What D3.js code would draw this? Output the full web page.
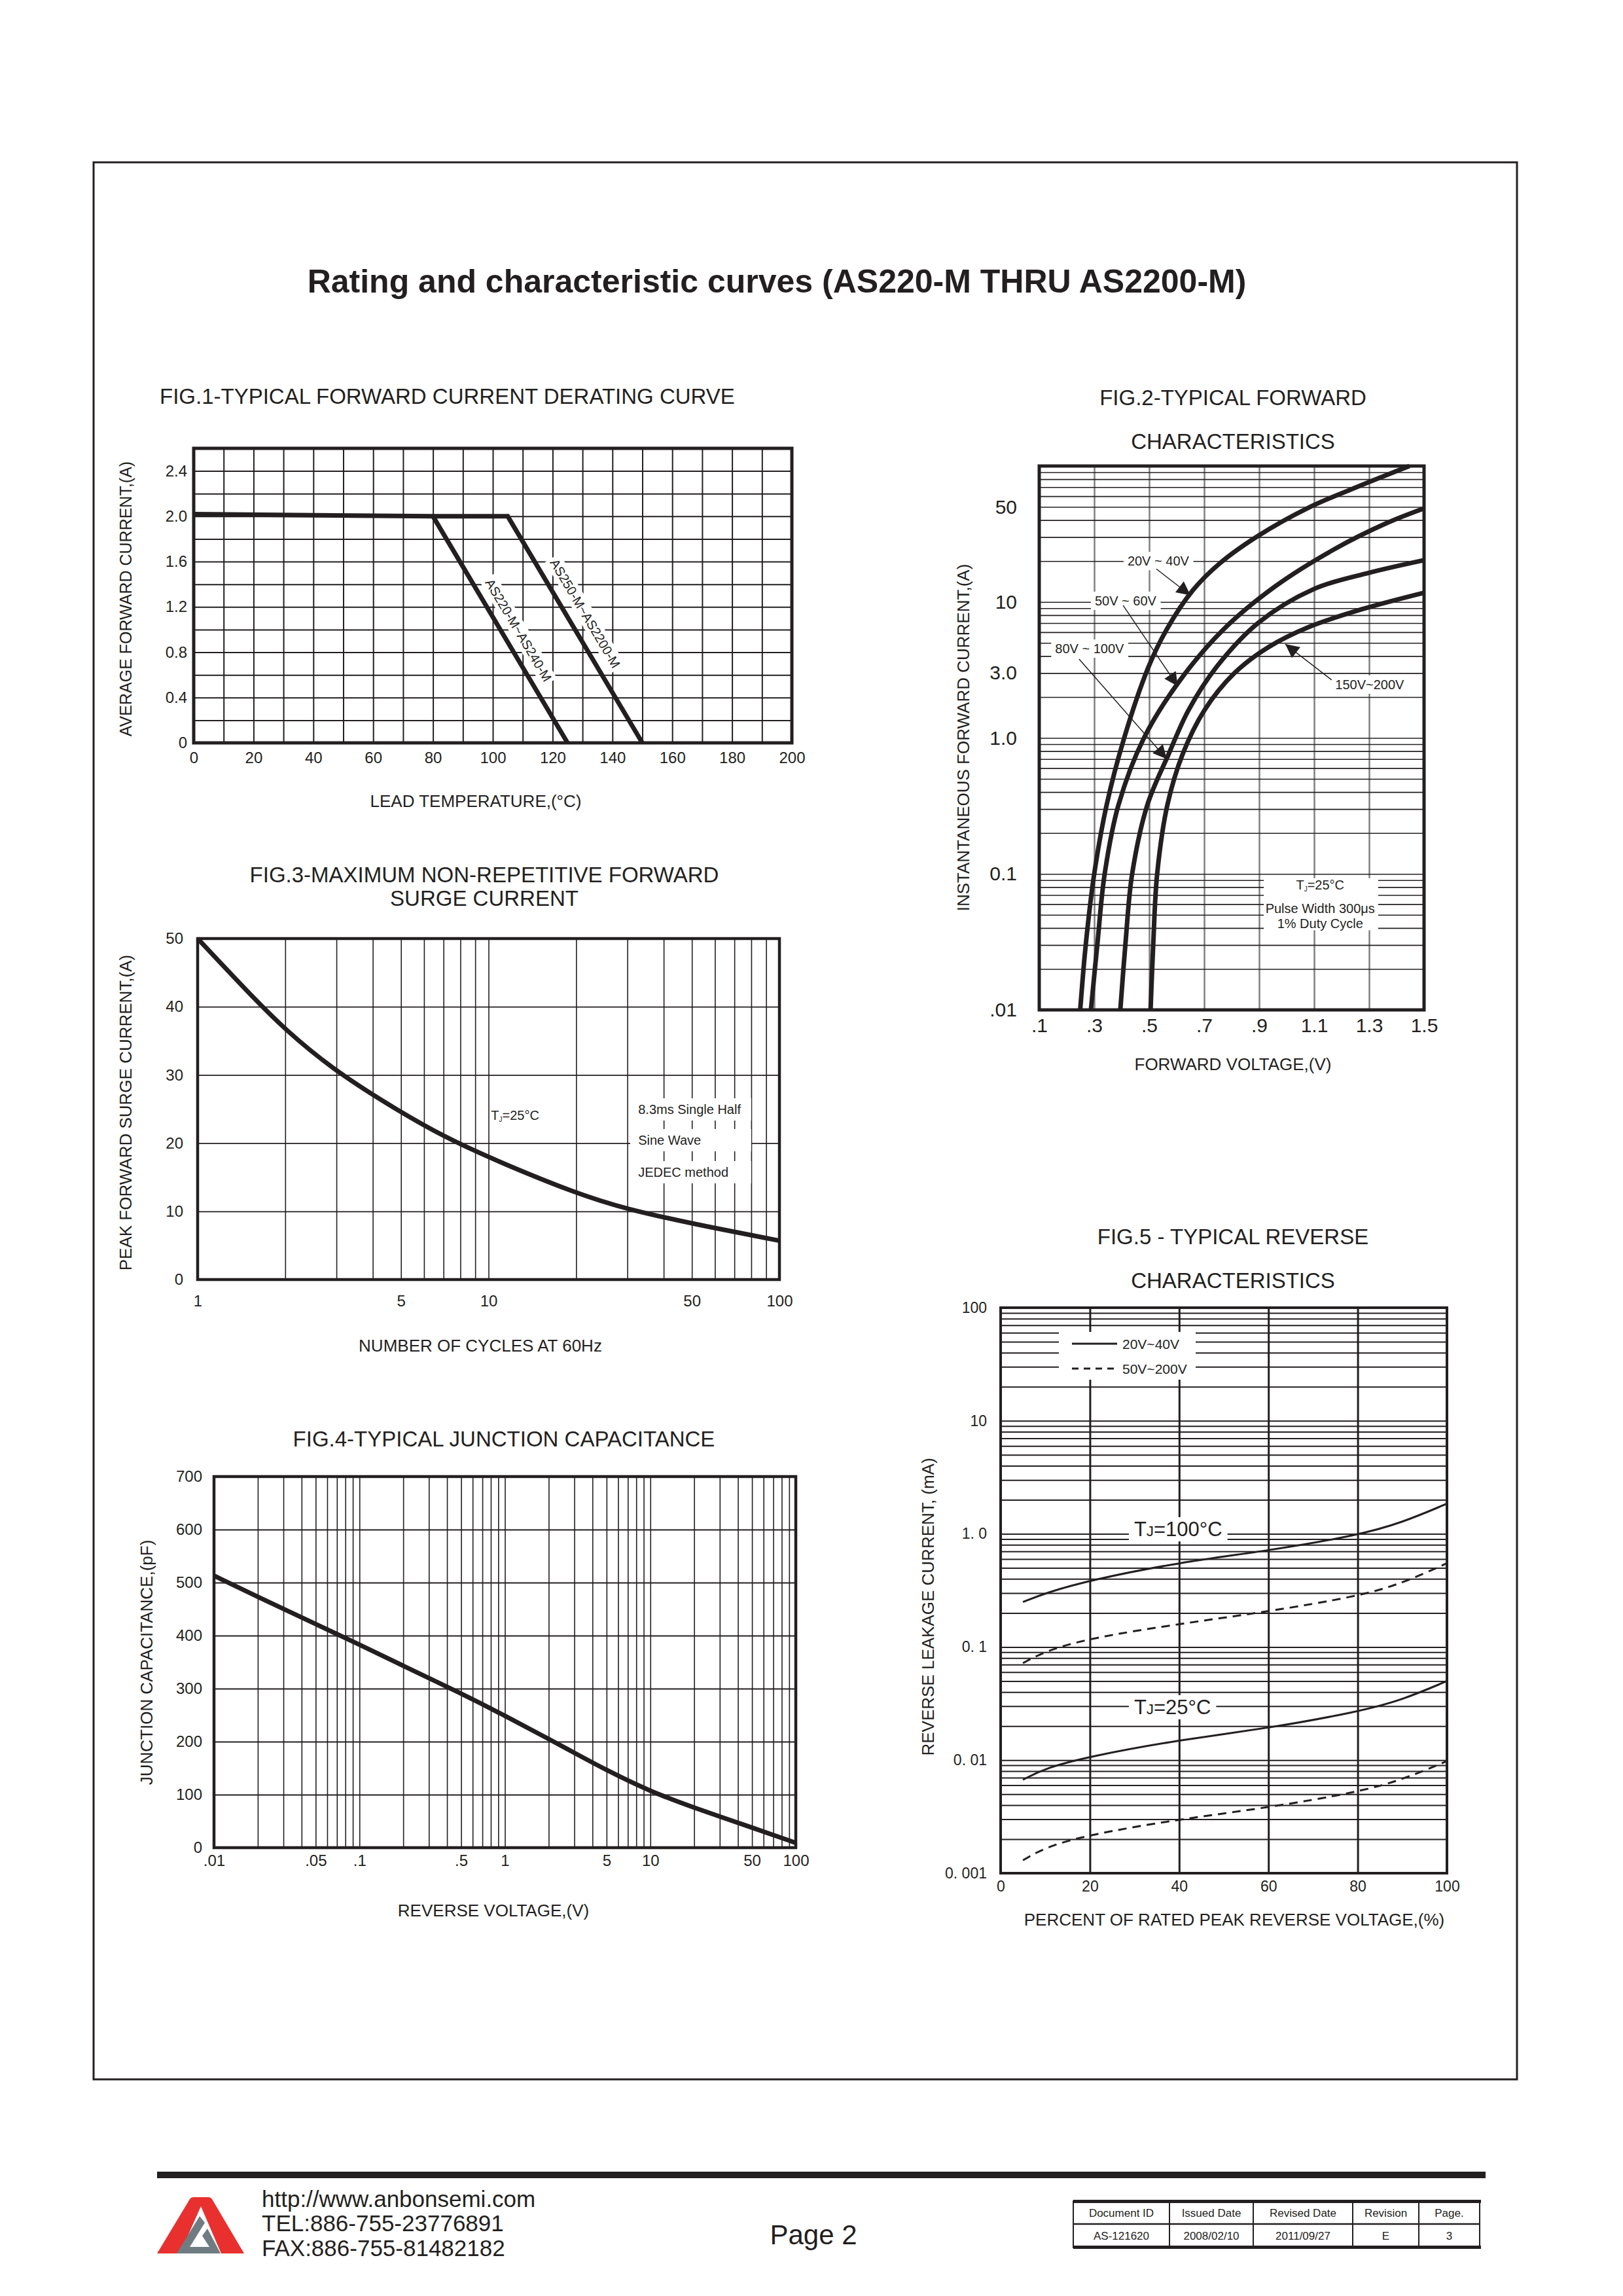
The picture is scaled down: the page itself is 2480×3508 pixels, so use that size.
<!DOCTYPE html>
<html>
<head>
<meta charset="utf-8">
<script src="https://cdn.jsdelivr.net/npm/d3@7"></script>
<style>
body { margin: 0; background: #fff; }
text { font-family: "Liberation Sans", Arial, sans-serif; fill: #231f20; }
</style>
</head>
<body>
<svg id="page" width="2480" height="3508"></svg>
<script>
// ---- fig.1 derating ----
const fig1Temp = [0, 20, 40, 60, 80, 100, 120, 140, 160, 180, 200];
const fig1AmpTicks = [0, 0.4, 0.8, 1.2, 1.6, 2.0, 2.4];
const fig1AmpLabels = ['0', '0.4', '0.8', '1.2', '1.6', '2.0', '2.4'];
const lowTemp = [0, 80, 125];
const lowAmp = [2.02, 2.0, 0];
const highTemp = [80, 105, 150];
const highAmp = [2.0, 2.0, 0];

// ---- fig.2 forward characteristics ----
const fig2VoltTicks = [0.1, 0.3, 0.5, 0.7, 0.9, 1.1, 1.3, 1.5];
const fig2VoltLabels = ['.1', '.3', '.5', '.7', '.9', '1.1', '1.3', '1.5'];
const fig2CurTicks = [50, 10, 3, 1, 0.1, 0.01];
const fig2CurLabels = ['50', '10', '3.0', '1.0', '0.1', '.01'];
const vA = [0.249, 0.270, 0.300, 0.345, 0.409, 0.494, 0.563, 0.659, 0.755, 0.898, 1.079, 1.255, 1.447];
const iA = [0.01, 0.0313, 0.1, 0.32, 1.0, 3.2, 6.25, 12.2, 19.1, 30.8, 49.3, 70, 100];
const vB = [0.288, 0.312, 0.338, 0.388, 0.481, 0.610, 0.769, 0.960, 1.173, 1.365, 1.5];
const iB = [0.01, 0.0313, 0.1, 0.32, 1.0, 2.62, 6.25, 13.1, 24.4, 38.1, 48.8];
const vC = [0.395, 0.414, 0.438, 0.493, 0.571, 0.643, 0.747, 0.898, 1.101, 1.300, 1.5];
const iC = [0.01, 0.0313, 0.1, 0.32, 0.762, 1.60, 3.37, 7.06, 12.5, 16.4, 20.3];
const vD = [0.505, 0.515, 0.529, 0.566, 0.622, 0.701, 0.808, 0.933, 1.082, 1.273, 1.5];
const iD = [0.01, 0.0313, 0.1, 0.32, 0.762, 1.60, 2.97, 4.64, 6.56, 8.83, 11.7];

// ---- fig.3 surge ----
const fig3CycTicks = [1, 5, 10, 50, 100];
const fig3AmpTicks = [0, 10, 20, 30, 40, 50];
const cycles = [1, 1.5, 2, 3, 5, 7, 10, 20, 30, 50, 100];
const surge = [50, 42.0, 36.6, 30.4, 24.5, 21.0, 17.9, 12.6, 10.3, 8.2, 5.7];

// ---- fig.4 capacitance ----
const fig4VoltTicks = [0.01, 0.05, 0.1, 0.5, 1, 5, 10, 50, 100];
const fig4VoltLabels = ['.01', '.05', '.1', '.5', '1', '5', '10', '50', '100'];
const fig4CapTicks = [0, 100, 200, 300, 400, 500, 600, 700];
const revVolt = [0.01, 0.02, 0.05, 0.1, 0.2, 0.5, 1, 2, 3, 5, 10, 20, 50, 100];
const capPf = [513, 473, 422, 383, 343, 291, 249, 205, 179, 146, 106, 75, 38, 9];

// ---- fig.5 reverse ----
const fig5PctTicks = [0, 20, 40, 60, 80, 100];
const fig5CurTicks = [100, 10, 1, 0.1, 0.01, 0.001];
const fig5CurLabels = ['100', '10', '1. 0', '0. 1', '0. 01', '0. 001'];
const pct = [5, 10, 20, 40, 60, 80, 90, 100];
const hot2040 = [0.25, 0.30, 0.39, 0.56, 0.71, 0.97, 1.26, 1.85];
const hot50200 = [0.072, 0.092, 0.12, 0.16, 0.206, 0.28, 0.365, 0.55];
const cold2040 = [0.0067, 0.0085, 0.0108, 0.0151, 0.0191, 0.0267, 0.034, 0.05];
const cold50200 = [0.0013, 0.0017, 0.0022, 0.003, 0.0038, 0.0052, 0.0067, 0.0098];

const ink = '#231f20';
const svg = d3.select('#page');

svg.append('defs').append('marker')
  .attr('id', 'head').attr('viewBox', '0 0 10 10').attr('refX', 10).attr('refY', 5)
  .attr('markerWidth', 28).attr('markerHeight', 21).attr('markerUnits', 'userSpaceOnUse')
  .attr('orient', 'auto')
  .append('path').attr('d', 'M0,0L10,5L0,10Z').attr('fill', ink);

function logGrid(lo, hi) {
  const out = [];
  for (let e = Math.log10(lo); e < Math.log10(hi); e++) {
    for (let k = 1; k < 10; k++) {
      const v = k * Math.pow(10, e);
      if (v > lo * 1.0001) out.push(v);
    }
  }
  return out;
}

function cleanAxis(s, size) {
  s.attr('font-family', null).attr('font-size', null);
  s.select('.domain').remove();
  s.selectAll('.tick line').remove();
  s.selectAll('text').attr('font-size', size).attr('fill', ink);
}

function panel(o) {
  const w = o.box[2] - o.box[0], h = o.box[3] - o.box[1];
  const g = svg.append('g').attr('transform', `translate(${o.box[0]},${o.box[1]})`);
  const x = (o.xLog ? d3.scaleLog() : d3.scaleLinear()).domain(o.xDomain).range([0, w]);
  const y = (o.yLog ? d3.scaleLog() : d3.scaleLinear()).domain(o.yDomain).range([h, 0]);

  g.append('g')
    .call(d3.axisBottom(x).tickValues(o.xGrid).tickSize(h).tickFormat(''))
    .call(s => s.select('.domain').remove())
    .selectAll('line').attr('stroke', o.vColor || ink).attr('stroke-width', o.vWidth);
  g.append('g')
    .call(d3.axisLeft(y).tickValues(o.yGrid).tickSize(-w).tickFormat(''))
    .call(s => s.select('.domain').remove())
    .selectAll('line').attr('stroke', ink).attr('stroke-width', o.hWidth);

  g.append('g').attr('transform', `translate(0,${h})`)
    .call(d3.axisBottom(x).tickValues(o.xTicks).tickFormat((d, i) => o.xLabels[i]).tickSize(0).tickPadding(o.xPad))
    .call(s => cleanAxis(s, o.tickFont));
  g.append('g')
    .call(d3.axisLeft(y).tickValues(o.yTicks).tickFormat((d, i) => o.yLabels[i]).tickSize(0).tickPadding(o.yPad))
    .call(s => cleanAxis(s, o.tickFont));

  const frame = () => g.append('rect').attr('width', w).attr('height', h)
    .attr('fill', 'none').attr('stroke', ink).attr('stroke-width', o.frame);
  return { g, x, y, w, h, frame };
}

function text(x, y, str, size, anchor, weight) {
  return svg.append('text').attr('x', x).attr('y', y).attr('font-size', size)
    .attr('text-anchor', anchor || 'start').attr('font-weight', weight || 'normal').text(str);
}
function vtext(cx, cy, str, size) {
  svg.append('text').attr('transform', `translate(${cx},${cy}) rotate(-90)`)
    .attr('font-size', size).attr('text-anchor', 'middle').text(str);
}
// white patch behind a text node
function backing(parent, node, padX, padY) {
  const b = node.node().getBBox();
  parent.insert('rect', () => node.node())
    .attr('x', b.x - padX).attr('y', b.y - padY)
    .attr('width', b.width + 2 * padX).attr('height', b.height + 2 * padY)
    .attr('fill', '#fff');
}
function tjLabel(parent, x, y, size, rest, tiny) {
  const t = parent.append('text').attr('x', x).attr('y', y).attr('font-size', size);
  t.append('tspan').text('T');
  t.append('tspan').attr('font-size', size * (tiny ? 0.5 : 0.72)).attr('dy', tiny ? 3 : 0).text('J');
  t.append('tspan').attr('dy', tiny ? -3 : 0).text(rest);
  return t;
}
function curveIn(p, xs, ys, kind) {
  return d3.line().x(d => p.x(d[0])).y(d => p.y(d[1]))
    .curve(kind || d3.curveCatmullRom.alpha(0.5))(d3.zip(xs, ys));
}

// page frame and heading
svg.append('rect').attr('x', 143).attr('y', 248).attr('width', 2175).attr('height', 2929)
  .attr('fill', 'none').attr('stroke', ink).attr('stroke-width', 3);
text(1187, 447, 'Rating and characteristic curves (AS220-M THRU AS2200-M)', 50, 'middle', 'bold');

// ---------------- FIG 1 ----------------
const p1 = panel({
  box: [296, 685, 1210, 1135], xDomain: [0, 200], yDomain: [0, 2.6],
  xGrid: d3.range(10, 200, 10), yGrid: d3.range(0.2, 2.59, 0.2),
  vWidth: 2, hWidth: 2,
  xTicks: fig1Temp, xLabels: fig1Temp.map(String), yTicks: fig1AmpTicks, yLabels: fig1AmpLabels,
  xPad: 14, yPad: 10, tickFont: 24, frame: 5
});
const line1 = d3.line().x(d => p1.x(d[0])).y(d => p1.y(d[1]));
p1.g.append('path').attr('d', line1(d3.zip(lowTemp, lowAmp)))
  .attr('fill', 'none').attr('stroke', ink).attr('stroke-width', 7).attr('stroke-linejoin', 'miter');
p1.g.append('path').attr('d', line1(d3.zip(highTemp, highAmp)))
  .attr('fill', 'none').attr('stroke', ink).attr('stroke-width', 7).attr('stroke-linejoin', 'miter');
const ang1 = Math.atan2(p1.y(0) - p1.y(2), p1.x(125) - p1.x(80)) * 180 / Math.PI;
[['AS220-M~AS240-M', 108.6, 0.995], ['AS250-M~AS2200-M', 130.9, 1.143]].forEach(([s, t, a]) => {
  const lg = p1.g.append('g').attr('transform', `translate(${p1.x(t)},${p1.y(a)}) rotate(${ang1})`);
  const tn = lg.append('text').attr('font-size', 20).attr('text-anchor', 'middle').attr('dy', '0.35em').text(s);
  backing(lg, tn, 4, 2);
});
p1.frame();
text(244, 617, 'FIG.1-TYPICAL FORWARD CURRENT DERATING CURVE', 33);
vtext(201, 915, 'AVERAGE FORWARD CURRENT,(A)', 25);
text(727, 1233, 'LEAD TEMPERATURE,(°C)', 26, 'middle');

// ---------------- FIG 2 ----------------
const p2 = panel({
  box: [1588, 712, 2176, 1543], xDomain: [0.1, 1.5], yDomain: [0.01, 100], yLog: true,
  xGrid: [0.3, 0.5, 0.7, 0.9, 1.1, 1.3], yGrid: logGrid(0.01, 100),
  vColor: '#808080', vWidth: 2.5, hWidth: 1.6,
  xTicks: fig2VoltTicks, xLabels: fig2VoltLabels, yTicks: fig2CurTicks, yLabels: fig2CurLabels,
  xPad: 13, yPad: 34, tickFont: 30, frame: 5
});
[[vA, iA], [vB, iB], [vC, iC], [vD, iD]].forEach(([v, i]) => {
  p2.g.append('path').attr('d', curveIn(p2, v, i))
    .attr('fill', 'none').attr('stroke', ink).attr('stroke-width', 7);
});
const fig2Notes = [
  { s: '20V ~ 40V', at: [0.533, 20], tail: [0.526, 17.5], tip: [0.650, 11.2] },
  { s: '50V ~ 60V', at: [0.414, 10.2], tail: [0.405, 9.45], tip: [0.604, 2.4] },
  { s: '80V ~ 100V', at: [0.283, 4.54], tail: [0.245, 3.8], tip: [0.564, 0.70] },
  { s: '150V~200V', at: [1.302, 2.47], tail: [1.164, 2.67], tip: [0.995, 4.9] }
];
fig2Notes.forEach(n => {
  const t = p2.g.append('text').attr('x', p2.x(n.at[0])).attr('y', p2.y(n.at[1]))
    .attr('dy', '0.35em').attr('font-size', 20).attr('text-anchor', 'middle').text(n.s);
  backing(p2.g, t, 6, 3);
  p2.g.append('line').attr('x1', p2.x(n.tail[0])).attr('y1', p2.y(n.tail[1]))
    .attr('x2', p2.x(n.tip[0])).attr('y2', p2.y(n.tip[1]))
    .attr('stroke', ink).attr('stroke-width', 1.5).attr('marker-end', 'url(#head)');
});
p2.g.append('rect').attr('x', p2.x(0.917)).attr('y', p2.y(0.093))
  .attr('width', p2.x(1.333) - p2.x(0.917)).attr('height', p2.y(0.0385) - p2.y(0.093)).attr('fill', '#fff');
tjLabel(p2.g, p2.x(1.122), p2.y(0.083), 20, '=25°C', true).attr('text-anchor', 'middle').attr('dy', '0.35em');
p2.g.append('text').attr('x', p2.x(1.122)).attr('y', p2.y(0.0557)).attr('dy', '0.35em')
  .attr('font-size', 20).attr('text-anchor', 'middle').text('Pulse Width 300μs');
p2.g.append('text').attr('x', p2.x(1.122)).attr('y', p2.y(0.0432)).attr('dy', '0.35em')
  .attr('font-size', 20).attr('text-anchor', 'middle').text('1% Duty Cycle');
p2.frame();
text(1884, 619, 'FIG.2-TYPICAL FORWARD', 33, 'middle');
text(1884, 686, 'CHARACTERISTICS', 33, 'middle');
vtext(1481, 1127, 'INSTANTANEOUS FORWARD CURRENT,(A)', 26);
text(1884, 1635, 'FORWARD VOLTAGE,(V)', 26, 'middle');

// ---------------- FIG 3 ----------------
const p3 = panel({
  box: [302, 1434, 1191, 1955], xDomain: [1, 100], xLog: true, yDomain: [0, 50],
  xGrid: logGrid(1, 100), yGrid: [10, 20, 30, 40],
  vWidth: 1.6, hWidth: 1.8,
  xTicks: fig3CycTicks, xLabels: fig3CycTicks.map(String), yTicks: fig3AmpTicks, yLabels: fig3AmpTicks.map(String),
  xPad: 24, yPad: 22, tickFont: 24, frame: 4.5
});
p3.g.append('path').attr('d', curveIn(p3, cycles, surge, d3.curveBasis))
  .attr('fill', 'none').attr('stroke', ink).attr('stroke-width', 7);
tjLabel(p3.g, p3.x(10.2), p3.y(24.1), 20, '=25°C', true).attr('dy', '0.35em');
[['8.3ms Single Half', 24.95], ['Sine Wave', 20.44], ['JEDEC method', 15.74]].forEach(([s, a]) => {
  p3.g.append('rect').attr('x', p3.x(30.7)).attr('y', p3.y(a) - 17)
    .attr('width', p3.x(80) - p3.x(30.7)).attr('height', 34).attr('fill', '#fff');
  p3.g.append('text').attr('x', p3.x(32.7)).attr('y', p3.y(a)).attr('dy', '0.35em')
    .attr('font-size', 20).text(s);
});
p3.frame();
text(740, 1348, 'FIG.3-MAXIMUM NON-REPETITIVE FORWARD', 33, 'middle');
text(740, 1384, 'SURGE CURRENT', 33, 'middle');
vtext(201, 1700, 'PEAK FORWARD SURGE CURRENT,(A)', 26);
text(734, 2065, 'NUMBER OF CYCLES AT 60Hz', 26, 'middle');

// ---------------- FIG 4 ----------------
const p4 = panel({
  box: [327, 2256, 1216, 2823], xDomain: [0.01, 100], xLog: true, yDomain: [0, 700],
  xGrid: logGrid(0.01, 100), yGrid: [100, 200, 300, 400, 500, 600],
  vWidth: 1.6, hWidth: 1.8,
  xTicks: fig4VoltTicks, xLabels: fig4VoltLabels, yTicks: fig4CapTicks, yLabels: fig4CapTicks.map(String),
  xPad: 11, yPad: 18, tickFont: 24, frame: 4.5
});
p4.g.append('path').attr('d', curveIn(p4, revVolt, capPf, d3.curveBasis))
  .attr('fill', 'none').attr('stroke', ink).attr('stroke-width', 7);
p4.frame();
text(770, 2210, 'FIG.4-TYPICAL JUNCTION CAPACITANCE', 33, 'middle');
vtext(233, 2540, 'JUNCTION CAPACITANCE,(pF)', 26);
text(754, 2928, 'REVERSE VOLTAGE,(V)', 26, 'middle');

// ---------------- FIG 5 ----------------
const p5 = panel({
  box: [1529, 1998, 2211, 2862], xDomain: [0, 100], yDomain: [0.001, 100], yLog: true,
  xGrid: [20, 40, 60, 80], yGrid: logGrid(0.001, 100),
  vWidth: 3, hWidth: 2,
  xTicks: fig5PctTicks, xLabels: fig5PctTicks.map(String), yTicks: fig5CurTicks, yLabels: fig5CurLabels,
  xPad: 12, yPad: 21, tickFont: 23, frame: 4
});
[[hot2040, null], [hot50200, '13,9'], [cold2040, null], [cold50200, '13,9']].forEach(([vals, dash]) => {
  p5.g.append('path').attr('d', curveIn(p5, pct, vals, d3.curveBasis))
    .attr('fill', 'none').attr('stroke', ink).attr('stroke-width', 3)
    .attr('stroke-dasharray', dash);
});
// legend
p5.g.append('rect').attr('x', 1618 - 1529).attr('y', 2035 - 1998).attr('width', 209).attr('height', 73).attr('fill', '#fff');
p5.g.append('line').attr('x1', 1638 - 1529).attr('x2', 1707 - 1529).attr('y1', 55).attr('y2', 55)
  .attr('stroke', ink).attr('stroke-width', 3);
p5.g.append('line').attr('x1', 1638 - 1529).attr('x2', 1707 - 1529).attr('y1', 93).attr('y2', 93)
  .attr('stroke', ink).attr('stroke-width', 3).attr('stroke-dasharray', '10,8');
p5.g.append('text').attr('x', 1715 - 1529).attr('y', 63).attr('font-size', 21).text('20V~40V');
p5.g.append('text').attr('x', 1715 - 1529).attr('y', 101).attr('font-size', 21).text('50V~200V');
[['=100°C', 0.955], ['=25°C', 0.0255]].forEach(([s, v]) => {
  const t = tjLabel(p5.g, p5.x(29.9), p5.y(v), 31, s, false);
  backing(p5.g, t, 8, 1);
});
p5.frame();
text(1884, 1901, 'FIG.5 - TYPICAL REVERSE', 33, 'middle');
text(1884, 1968, 'CHARACTERISTICS', 33, 'middle');
vtext(1427, 2455, 'REVERSE LEAKAGE CURRENT, (mA)', 26);
text(1886, 2942, 'PERCENT OF RATED PEAK REVERSE VOLTAGE,(%)', 26, 'middle');

// ---------------- footer ----------------
svg.append('rect').attr('x', 240).attr('y', 3318).attr('width', 2030).attr('height', 10).attr('fill', ink);
svg.append('path').attr('fill', '#e8312f')
  .attr('d', 'M240,3443 L290,3360 Q292,3357 296,3357 L318,3357 Q322,3357 324,3360 L373,3443 L338,3443 L307,3371 L275,3443 Z');
svg.append('path').attr('fill', '#6f7c82')
  .attr('d', 'M270,3443 L305,3386 L313,3396 L290,3433 L320,3433 L309,3416 L317,3405 L337,3443 Z');
text(400, 3372, 'http://www.anbonsemi.com', 35);
text(400, 3409, 'TEL:886-755-23776891', 35);
text(400, 3447, 'FAX:886-755-81482182', 35);
text(1243, 3429, 'Page 2', 42, 'middle');

const tableCols = ['Document ID', 'Issued Date', 'Revised Date', 'Revision', 'Page.'];
const tableVals = ['AS-121620', '2008/02/10', '2011/09/27', 'E', '3'];
const colX = [1640, 1787, 1915, 2067, 2168, 2261];
const tbl = svg.append('g');
tbl.append('rect').attr('x', 1640).attr('y', 3363).attr('width', 621).attr('height', 71)
  .attr('fill', 'none').attr('stroke', ink).attr('stroke-width', 2);
tbl.append('rect').attr('x', 1640).attr('y', 3361).attr('width', 623).attr('height', 5).attr('fill', ink);
tbl.append('rect').attr('x', 1640).attr('y', 3431).attr('width', 623).attr('height', 5).attr('fill', ink);
tbl.append('line').attr('x1', 1640).attr('x2', 2261).attr('y1', 3398).attr('y2', 3398)
  .attr('stroke', ink).attr('stroke-width', 2.5);
colX.slice(1, -1).forEach(cx => tbl.append('line').attr('x1', cx).attr('x2', cx)
  .attr('y1', 3363).attr('y2', 3434).attr('stroke', ink).attr('stroke-width', 2));
tableCols.forEach((s, i) => {
  const cx = (colX[i] + colX[i + 1]) / 2;
  tbl.append('text').attr('x', cx).attr('y', 3387).attr('font-size', 17).attr('text-anchor', 'middle').text(s);
  tbl.append('text').attr('x', cx).attr('y', 3422).attr('font-size', 17).attr('text-anchor', 'middle').text(tableVals[i]);
});
</script>
</body>
</html>
